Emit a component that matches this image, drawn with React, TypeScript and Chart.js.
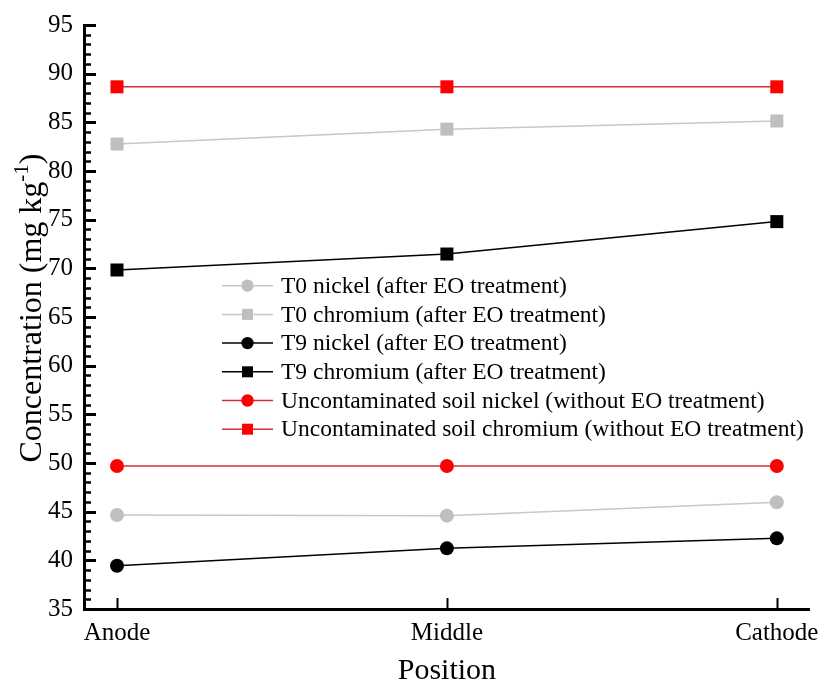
import React, { useEffect, useRef } from "react";
import { Chart, registerables } from "chart.js";

Chart.register(...registerables);

// ---- data ----
const positions = ["Anode", "Middle", "Cathode"];
const t0Nickel = [44.66, 44.59, 45.96];
const t0Chromium = [82.77, 84.3, 85.14];
const t9Nickel = [39.45, 41.23, 42.26];
const t9Chromium = [69.83, 71.47, 74.8];
const uncNickel = [49.69, 49.69, 49.69];
const uncChromium = [88.65, 88.65, 88.65];

const seriesLabels = [
  "T0 nickel (after EO treatment)",
  "T0 chromium (after EO treatment)",
  "T9 nickel (after EO treatment)",
  "T9 chromium (after EO treatment)",
  "Uncontaminated soil nickel (without EO treatment)",
  "Uncontaminated soil chromium (without EO treatment)",
];
const seriesValues = [t0Nickel, t0Chromium, t9Nickel, t9Chromium, uncNickel, uncChromium];
const seriesMarkers = ["circle", "rect", "circle", "rect", "circle", "rect"];

const Y_MIN = 35;
const Y_MAX = 95;
const Y_STEP = 5;
const xTitle = "Position";
const yTitleMain = "Concentration (mg kg";
const yTitleSup = "-1";
const yTitleEnd = ")";

// ---- styles ----
const FONT = '"Liberation Serif", "Times New Roman", serif';
const markerColors = ["#bfbfbf", "#bfbfbf", "#000000", "#000000", "#ff0000", "#ff0000"];
const lineColors = ["#c8c8c8", "#c8c8c8", "#000000", "#000000", "#d03030", "#d03030"];

const decorPlugin = {
  id: "decor",
  afterDraw(chart: any) {
    const { ctx, chartArea, scales } = chart;
    const ys = scales.y;
    const xs = scales.x;
    ctx.save();
    ctx.strokeStyle = "#000";
    ctx.lineCap = "butt";
    // y ticks (major + minor), pointing inward
    for (let v = Y_MIN; v <= Y_MAX; v += 1) {
      const py = Math.round(ys.getPixelForValue(v)) + 0.5;
      const major = (v - Y_MIN) % Y_STEP === 0;
      ctx.lineWidth = major ? 3 : 2.5;
      ctx.beginPath();
      ctx.moveTo(chartArea.left, py);
      ctx.lineTo(chartArea.left + (major ? 12 : 7), py);
      ctx.stroke();
    }
    // x ticks pointing inward
    positions.forEach((_, i) => {
      const px = Math.round(xs.getPixelForValue(i)) + 0.5;
      ctx.lineWidth = 2;
      ctx.beginPath();
      ctx.moveTo(px, chartArea.bottom);
      ctx.lineTo(px, chartArea.bottom - 11);
      ctx.stroke();
    });

    // x title
    ctx.fillStyle = "#000";
    ctx.font = `30px ${FONT}`;
    ctx.textAlign = "center";
    ctx.textBaseline = "alphabetic";
    ctx.fillText(xTitle, (chartArea.left + chartArea.right) / 2, 679);

    // y title with superscript
    ctx.save();
    const mainFont = `32px ${FONT}`;
    const supFont = `21px ${FONT}`;
    ctx.font = mainFont;
    const wMain = ctx.measureText(yTitleMain).width;
    const wEnd = ctx.measureText(yTitleEnd).width;
    ctx.font = supFont;
    const wSup = ctx.measureText(yTitleSup).width;
    const total = wMain + wSup + wEnd;
    ctx.translate(41, 308);
    ctx.rotate(-Math.PI / 2);
    ctx.textAlign = "left";
    let sx = -total / 2;
    ctx.font = mainFont;
    ctx.fillText(yTitleMain, sx, 0);
    sx += wMain;
    ctx.font = supFont;
    ctx.fillText(yTitleSup, sx, -13);
    sx += wSup;
    ctx.font = mainFont;
    ctx.fillText(yTitleEnd, sx, 0);
    ctx.restore();

    // legend
    const lx0 = 222;
    const lx1 = 273;
    const mx = 247.5;
    const tx = 281;
    chart.data.datasets.forEach((ds: any, i: number) => {
      const ry = 285.7 + i * 28.7;
      ctx.strokeStyle = ds.borderColor;
      ctx.lineWidth = 1.5;
      ctx.beginPath();
      ctx.moveTo(lx0, ry);
      ctx.lineTo(lx1, ry);
      ctx.stroke();
      ctx.fillStyle = ds.pointBackgroundColor;
      if (ds.pointStyle === "circle") {
        ctx.beginPath();
        ctx.arc(mx, ry, 6.2, 0, Math.PI * 2);
        ctx.fill();
      } else {
        ctx.fillRect(mx - 5.5, ry - 5.5, 11, 11);
      }
      ctx.fillStyle = "#000";
      ctx.font = `23.5px ${FONT}`;
      ctx.textAlign = "left";
      ctx.textBaseline = "middle";
      ctx.fillText(ds.label, tx, ry + 1);
    });
    ctx.restore();
  },
};

export default function App() {
  const canvasRef = useRef<HTMLCanvasElement | null>(null);

  useEffect(() => {
    document.body.style.margin = "0";
    const canvas = canvasRef.current;
    if (!canvas) return;
    const datasets = seriesValues.map((vals, i) => ({
      label: seriesLabels[i],
      data: vals.map((v, j) => ({ x: j, y: v })),
      borderColor: lineColors[i],
      backgroundColor: markerColors[i],
      pointBackgroundColor: markerColors[i],
      pointBorderColor: markerColors[i],
      pointBorderWidth: 0,
      pointStyle: seriesMarkers[i],
      pointRadius: seriesMarkers[i] === "circle" ? 7 : 9.2,
      borderWidth: 1.5,
      tension: 0,
      fill: false,
      clip: false as any,
    }));

    const chart = new Chart(canvas, {
      type: "line",
      data: { datasets },
      options: {
        responsive: false,
        animation: false,
        devicePixelRatio: 1,
        layout: { padding: { top: 25, right: 8, bottom: 0, left: 0 } },
        plugins: {
          legend: { display: false },
          tooltip: { enabled: false },
        },
        scales: {
          x: {
            type: "linear",
            min: -0.1,
            max: 2.1,
            grid: { display: false, drawTicks: false },
            border: { display: true, color: "#000", width: 3 },
            afterBuildTicks: (scale: any) => {
              scale.ticks = positions.map((_, i) => ({ value: i }));
            },
            ticks: {
              color: "#000",
              padding: 9,
              font: { family: FONT, size: 25 },
              autoSkip: false,
              maxRotation: 0,
              callback: (v: any) => positions[v] ?? "",
            },
            afterFit: (scale: any) => {
              scale.height = 82;
              scale.paddingLeft = 0;
              scale.paddingRight = 0;
            },
          },
          y: {
            type: "linear",
            min: Y_MIN,
            max: Y_MAX,
            grid: { display: false, drawTicks: false },
            border: { display: true, color: "#000", width: 3 },
            ticks: {
              stepSize: Y_STEP,
              color: "#000",
              padding: 11,
              font: { family: FONT, size: 25 },
            },
            afterFit: (scale: any) => {
              scale.width = 84;
              scale.paddingTop = 0;
              scale.paddingBottom = 0;
            },
          },
        },
      } as any,
      plugins: [decorPlugin],
    });
    return () => chart.destroy();
  }, []);

  return (
    <div style={{ width: 819, height: 691, position: "relative" }}>
      <canvas ref={canvasRef} width={819} height={691} style={{ display: "block" }} />
    </div>
  );
}
